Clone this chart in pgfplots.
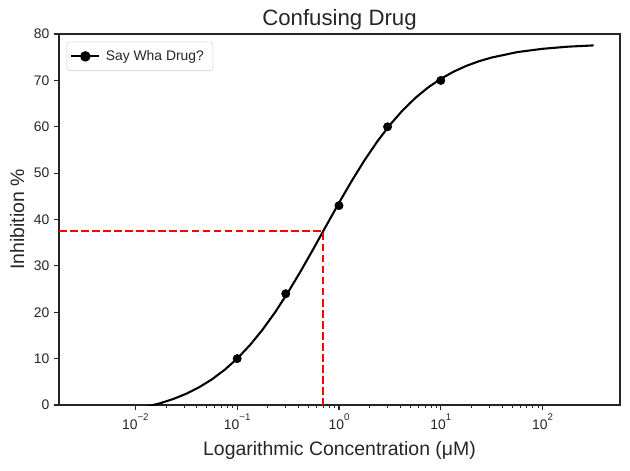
\documentclass[border=0pt]{standalone}
\usepackage{fontspec}
\setmainfont{Liberation Sans}
\usepackage{pgfplots}
\pgfplotsset{compat=1.18}
\definecolor{axgray}{gray}{0.15}
\newcommand{\tenpow}[1]{10\raisebox{0.6em}{\fontsize{7}{8}\selectfont #1}}
\begin{document}
\begin{tikzpicture}
\path[use as bounding box] (-42.5pt,-46.8pt) rectangle (411.1pt,291.6pt);
\begin{axis}[
  at={(0,0)}, anchor=south west,
  scale only axis,
  width=403.9pt, height=267.1pt,
  xmode=log,
  xmin=0.00178, xmax=575,
  ymin=0, ymax=80,
  ytick={0,10,...,80},
  xtick={0.01,0.1,1,10,100},
  xticklabels={\tenpow{−2},\tenpow{−1},\tenpow{0},\tenpow{1},\tenpow{2}},
  /pgf/number format/assume math mode=true,
  tick align=outside,
  xtick pos=bottom, ytick pos=left,
  major tick length=3.5pt, minor tick length=2pt,
  every tick/.style={axgray, line width=0.8pt},
  minor tick style={line width=0.6pt},
  axis line style={axgray, line width=0.8pt},
  tick label style={font=\fontsize{10}{12}\selectfont, text=axgray},
  xticklabel style={anchor=base, yshift=-14pt},
  title={Confusing Drug},
  title style={at={(axis description cs:0.5,1.0)}, anchor=base, yshift=0pt, font=\fontsize{16}{19}\selectfont, text=axgray},
  xlabel={Logarithmic Concentration (μM)},
  xlabel style={at={(axis description cs:0.5,-0.1374)}, anchor=base, font=\fontsize{14}{17}\selectfont, text=axgray},
  ylabel={Inhibition \%},
  ylabel style={at={(axis description cs:-0.0624,0.5)}, anchor=base, font=\fontsize{14}{17}\selectfont, text=axgray},
  legend style={at={(axis description cs:0,1)}, anchor=north west, xshift=5.5pt, yshift=-5.5pt,
    draw=gray!35, rounded corners=2pt, font=\fontsize{10}{12}\selectfont, text=axgray,
    inner xsep=2.5pt, inner ysep=4pt, nodes={inner xsep=4pt}},
  legend cell align=left,
  legend image code/.code={\draw[mark repeat=2,mark phase=2,#1] plot coordinates {(0pt,0pt) (10pt,0pt) (20pt,0pt)};},
]
\addplot[black, line width=1.5pt, forget plot] table {
x y
0.01 -0.868
0.013335 -0.298
0.017783 0.419
0.023714 1.316
0.031623 2.433
0.042170 3.812
0.056234 5.501
0.074989 7.552
0.1 10.006
0.13335 12.90
0.17783 16.27
0.23714 20.08
0.31623 24.32
0.42170 28.90
0.56234 33.73
0.74989 38.68
1 43.59
1.3335 48.32
1.7783 52.76
2.3714 56.80
3.1623 60.41
4.2170 63.54
5.6234 66.22
7.4989 68.48
10 70.35
13.335 71.88
17.783 73.13
23.714 74.14
31.623 74.94
56.234 76.10
100 76.82
177.83 77.28
316.23 77.55
};
\addplot[black, only marks, mark=*, mark size=3pt, forget plot] coordinates {
(0.1,10) (0.3,24) (1,43) (3,60) (10,70)
};
\addplot[red, line width=1.5pt, dash pattern=on 5.55pt off 2.4pt, forget plot] coordinates {
(0.00178,37.5) (0.69,37.5) (0.69,0)
};
\addlegendimage{black, line width=1.5pt, mark=*, mark size=3pt}
\addlegendentry{Say Wha Drug?}
\end{axis}
\end{tikzpicture}
\end{document}
